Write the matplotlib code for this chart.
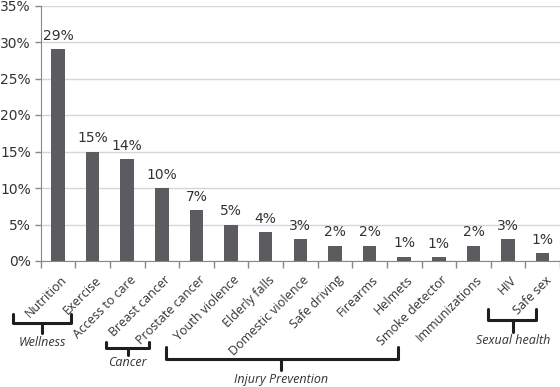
import numpy as np
import matplotlib
matplotlib.use("Agg")
import matplotlib.pyplot as plt
from matplotlib.transforms import blended_transform_factory, ScaledTranslation
from matplotlib.ticker import PercentFormatter

# data
categories = ["Nutrition", "Exercise", "Access to care", "Breast cancer",
              "Prostate cancer", "Youth violence", "Elderly falls",
              "Domestic violence", "Safe driving", "Firearms", "Helmets",
              "Smoke detector", "Immunizations", "HIV", "Safe sex"]
values = [29, 15, 14, 10, 7, 5, 4, 3, 2.1, 2.1, 0.6, 0.5, 2.1, 3, 1.05]
value_labels = ["29%", "15%", "14%", "10%", "7%", "5%", "4%", "3%", "2%",
                "2%", "1%", "1%", "2%", "3%", "1%"]
y_ticks = [0, 5, 10, 15, 20, 25, 30, 35]

# groups: name, bracket span in category units, stem position, and pixel rows
groups = [
    ("Wellness", -1.29, 0.37, -0.45, 314, 323, 333, 343),
    ("Cancer", 1.40, 2.62, 2.01, 342, 348, 355, 363),
    ("Injury Prevention", 3.13, 9.83, 6.43, 347, 359, 370, 379),
    ("Sexual health", 12.43, 13.81, 13.14, 309, 320, 332, 341),
]

W, H = 560, 387
fig = plt.figure(figsize=(W / 100, H / 100), dpi=100)
ax = fig.add_axes([40.7 / W, 1 - 261 / H, 1 - 40.7 / W, 255.5 / H])

x = np.arange(len(categories))
ax.bar(x, values, width=0.39, color="#5b5b60", zorder=3)

for xi, v, lab in zip(x, values, value_labels):
    ax.annotate(lab, (xi, v), xytext=(0, 4.5), textcoords="offset points",
                ha="center", va="bottom", fontsize=10, color="#333333",
                family="DejaVu Sans")

ax.set_xlim(-0.5, len(categories) - 0.5)
ax.set_ylim(0, 35)
ax.set_yticks(y_ticks)
ax.yaxis.set_major_formatter(PercentFormatter(decimals=0))
ax.tick_params(axis="y", length=4, width=1, color="#888888", labelsize=10,
               labelcolor="#333333", pad=3)
ax.grid(axis="y", color="#d6d6d6", lw=1, zorder=0)

ax.set_xticks(x)
ax.set_xticklabels(categories, rotation=45, ha="right", rotation_mode="anchor",
                   family="Open Sans", fontsize=9, color="#333333")
ax.tick_params(axis="x", length=0, pad=9)
shift = ScaledTranslation(2 / 100, 0, fig.dpi_scale_trans)
for lab in ax.get_xticklabels():
    lab.set_transform(lab.get_transform() + shift)
ax.set_xticks(np.arange(-0.5, len(categories)), minor=True)
ax.tick_params(axis="x", which="minor", length=5, width=1, color="#888888")

for s in ["top", "right"]:
    ax.spines[s].set_visible(False)
for s in ["left", "bottom"]:
    ax.spines[s].set_color("#888888")

# brackets under the labels: x in data units, y in figure pixels from top
tr = blended_transform_factory(ax.transData, fig.transFigure)
def fy(p):
    return 1 - p / H

for name, x0, x1, xm, ytop, yh, ybot, ytxt in groups:
    ax.plot([x0, x0, x1, x1], [fy(ytop), fy(yh), fy(yh), fy(ytop)],
            transform=tr, color="#1e1e1e", lw=2.2, clip_on=False,
            solid_joinstyle="round", solid_capstyle="round")
    ax.plot([xm, xm], [fy(yh), fy(ybot)], transform=tr, color="#1e1e1e",
            lw=2.2, clip_on=False, solid_capstyle="round")
    ax.text(xm, fy(ytxt), name, transform=tr, ha="center", va="center",
            style="italic", family="Open Sans", fontsize=9, color="#333333")

fig.savefig("out.png", dpi=100)
